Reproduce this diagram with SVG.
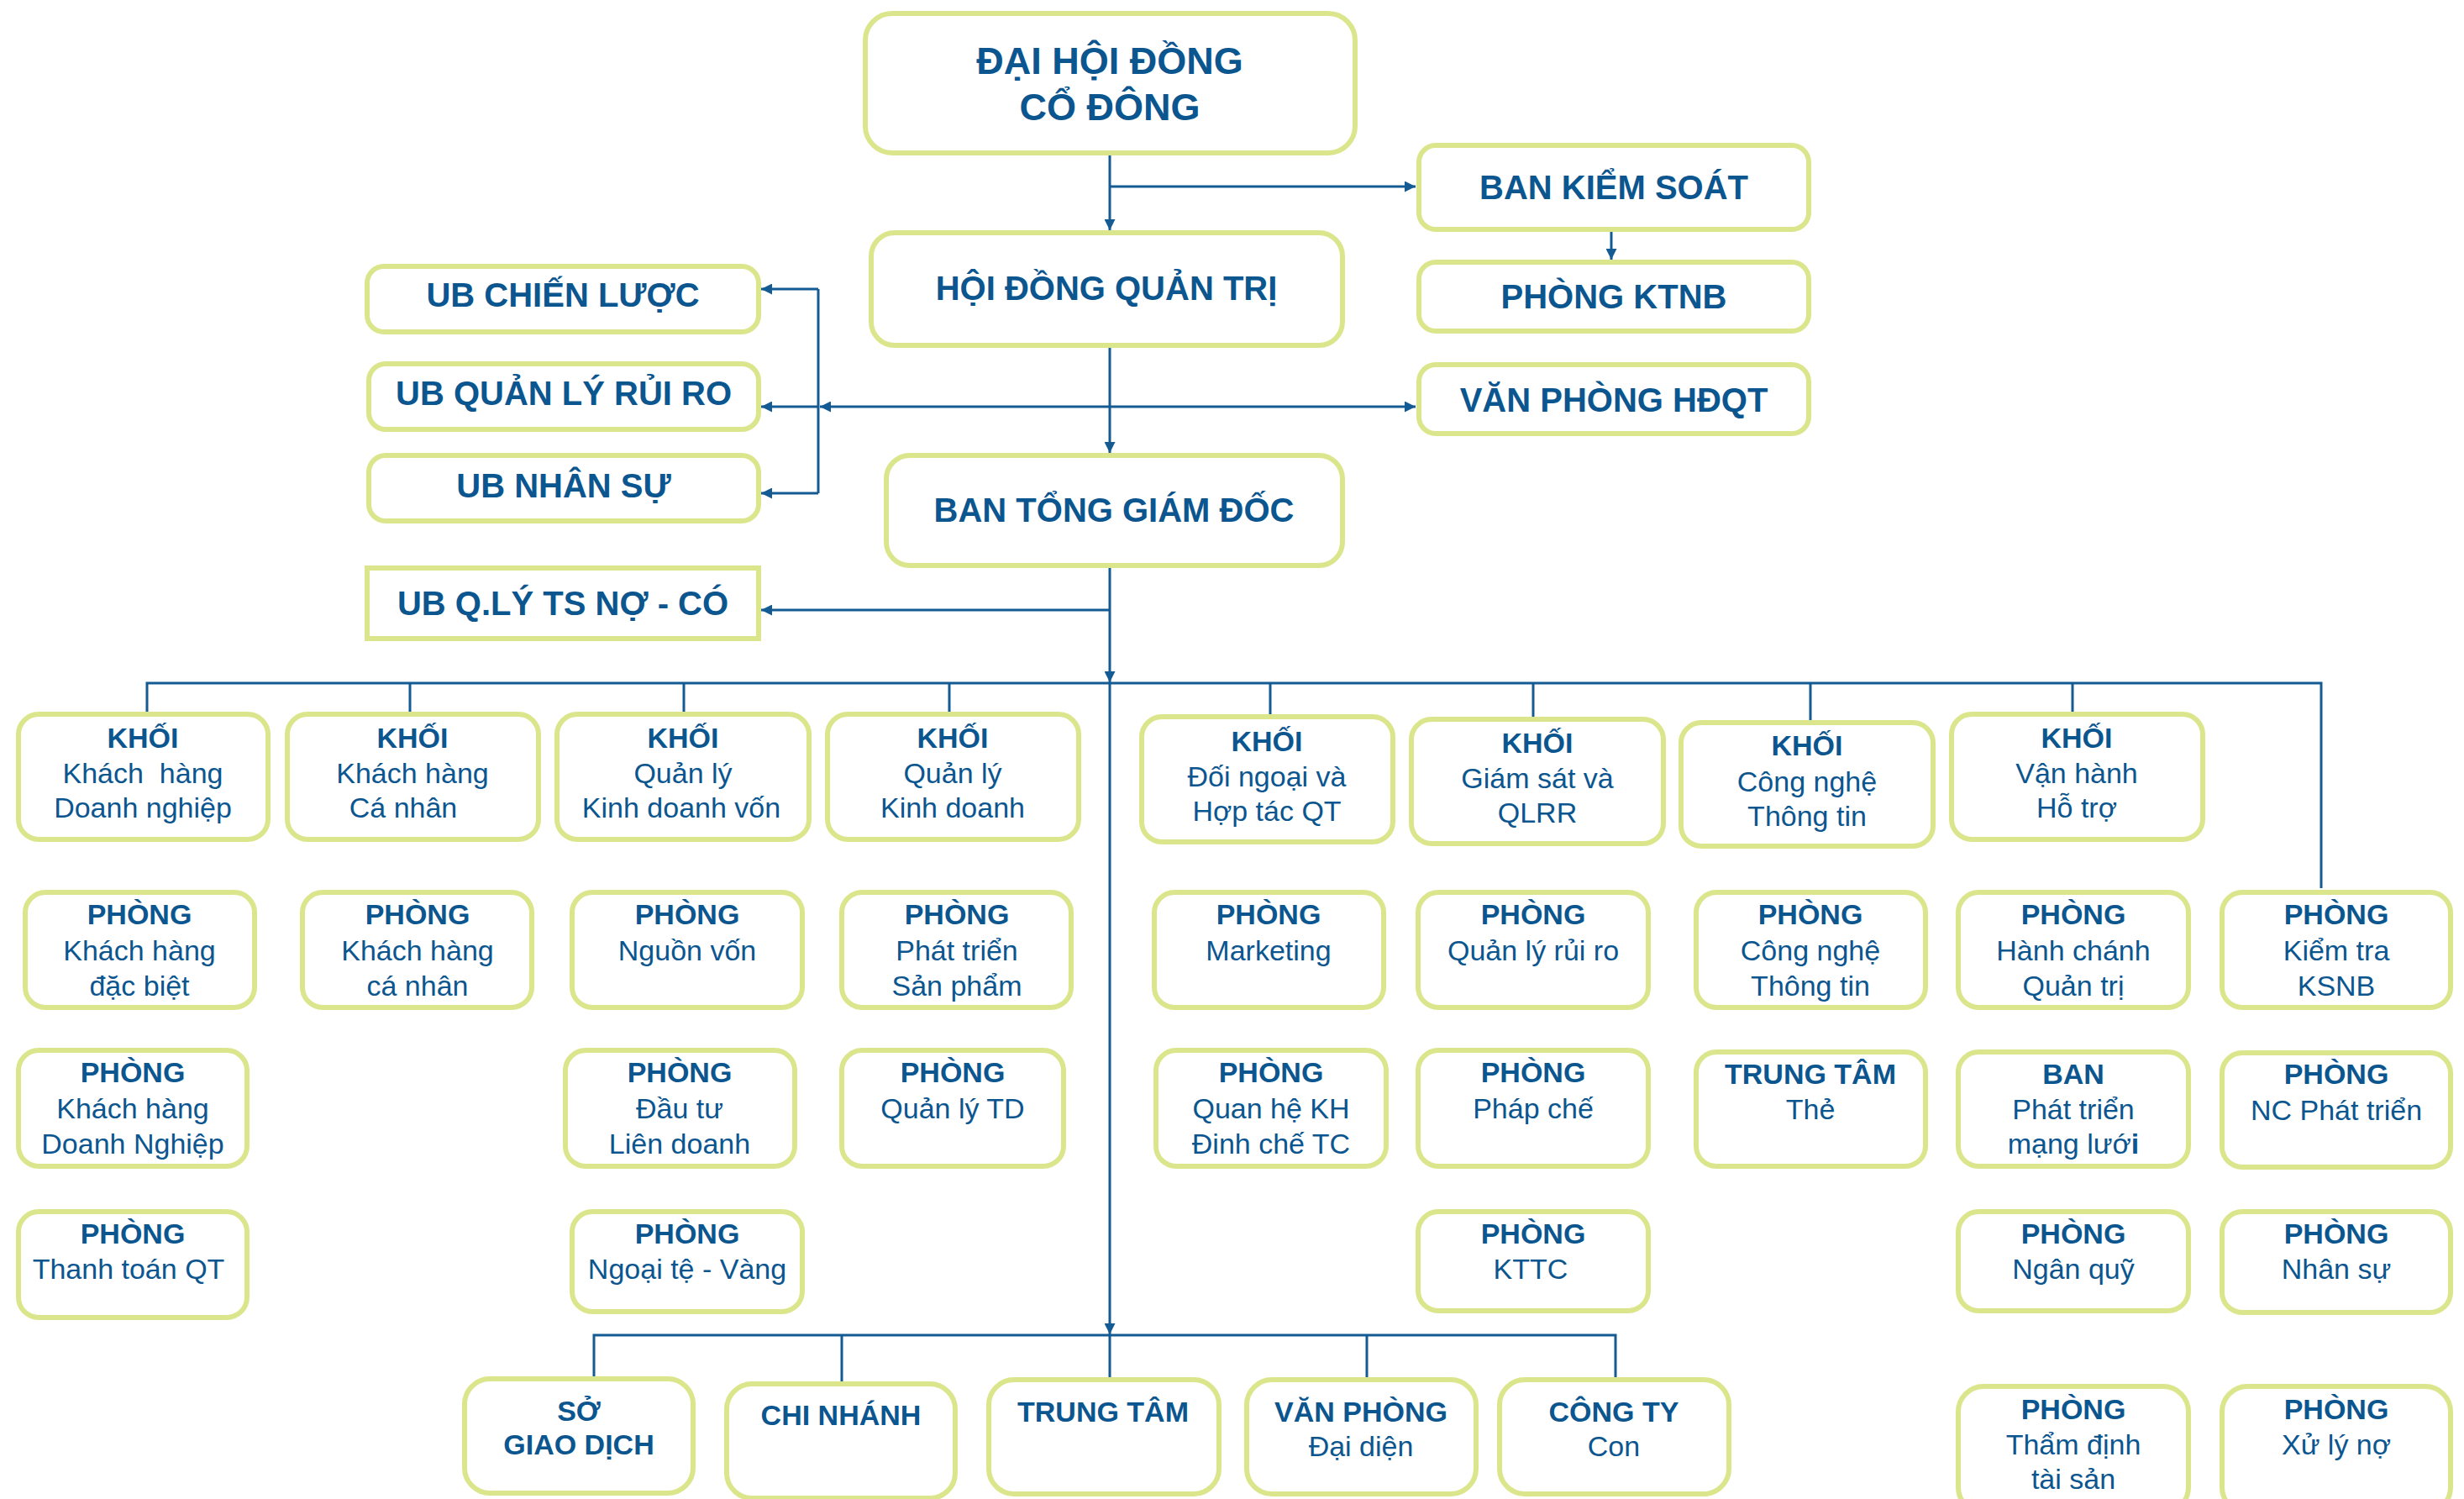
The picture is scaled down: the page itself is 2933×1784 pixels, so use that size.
<svg xmlns="http://www.w3.org/2000/svg" width="2933" height="1784" viewBox="0 0 2933 1784">
<defs>
<style>
.box{fill:#ffffff;stroke:#dbe68c;stroke-width:6}
.t{font-family:"Liberation Sans",Arial,sans-serif;fill:#0c5690;text-anchor:middle;font-size:34px}
.b{font-weight:bold}
.big{font-size:40px;font-weight:bold}
.huge{font-size:45px;font-weight:bold}
.conn{stroke:#145b94;stroke-width:3;fill:none}
</style>
<marker id="arr" viewBox="0 0 10 10" refX="10" refY="5" markerWidth="15" markerHeight="13" markerUnits="userSpaceOnUse" orient="auto">
<path d="M0,0 L10,5 L0,10 z" fill="#145b94"/>
</marker>
</defs>
<rect width="2933" height="1784" fill="#ffffff"/>

<g id="connectors">
<path class="conn" d="M1321,185 V274" marker-end="url(#arr)"/>
<path class="conn" d="M1321,222 H1685" marker-end="url(#arr)"/>
<path class="conn" d="M1918,276 V309" marker-end="url(#arr)"/>
<path class="conn" d="M1321,414 V539" marker-end="url(#arr)"/>
<path class="conn" d="M1321,484 H976" marker-end="url(#arr)"/>
<path class="conn" d="M1321,484 H1685" marker-end="url(#arr)"/>
<path class="conn" d="M974,344 V587"/>
<path class="conn" d="M974,344 H906" marker-end="url(#arr)"/>
<path class="conn" d="M974,484 H906" marker-end="url(#arr)"/>
<path class="conn" d="M974,587 H906" marker-end="url(#arr)"/>
<path class="conn" d="M1321,676 V812" marker-end="url(#arr)"/>
<path class="conn" d="M1321,726 H906" marker-end="url(#arr)"/>
<path class="conn" d="M1321,812 V1588" marker-end="url(#arr)"/>
<path class="conn" d="M175,847 V813 H2763 V1057"/>
<path class="conn" d="M488,813 V847 M814,813 V847 M1130,813 V847 M1512,813 V850 M1825,813 V853 M2155,813 V857 M2467,813 V847"/>
<path class="conn" d="M707,1638 V1589 H1923 V1639"/>
<path class="conn" d="M1002,1589 V1644 M1321,1589 V1639 M1627,1589 V1639"/>
</g>

<g id="dhdcd"><rect class="box" x="1030" y="16" width="583" height="166" rx="32"/>
<text class="t huge" x="1321" y="88">ĐẠI HỘI ĐỒNG</text><text class="t huge" x="1321" y="143">CỔ ĐÔNG</text></g>
<g id="hdqt"><rect class="box" x="1037" y="277" width="561" height="134" rx="28"/>
<text class="t big" x="1317" y="357">HỘI ĐỒNG QUẢN TRỊ</text></g>
<g id="btgd"><rect class="box" x="1055" y="542" width="543" height="131" rx="28"/>
<text class="t big" x="1326" y="621">BAN TỔNG GIÁM ĐỐC</text></g>
<g id="bks"><rect class="box" x="1689" y="173" width="464" height="100" rx="20"/>
<text class="t big" x="1921" y="237">BAN KIỂM SOÁT</text></g>
<g id="ktnb"><rect class="box" x="1689" y="312" width="464" height="82" rx="20"/>
<text class="t big" x="1921" y="367">PHÒNG KTNB</text></g>
<g id="vphdqt"><rect class="box" x="1689" y="434" width="464" height="82" rx="20"/>
<text class="t big" x="1921" y="490">VĂN PHÒNG HĐQT</text></g>
<g id="ubcl"><rect class="box" x="437" y="317" width="466" height="78" rx="20"/>
<text class="t big" x="670" y="365">UB CHIẾN LƯỢC</text></g>
<g id="ubqlrr"><rect class="box" x="439" y="433" width="464" height="78" rx="20"/>
<text class="t big" x="671" y="482">UB QUẢN LÝ RỦI RO</text></g>
<g id="ubns"><rect class="box" x="439" y="542" width="464" height="78" rx="20"/>
<text class="t big" x="671" y="592">UB NHÂN SỰ</text></g>
<g id="ubqlts"><rect class="box" x="437" y="676" width="466" height="84"/>
<text class="t big" x="670" y="732">UB Q.LÝ TS NỢ - CÓ</text></g>

<g id="k1"><rect class="box" x="22" y="850" width="297" height="149" rx="24"/>
<text class="t b" x="170" y="890">KHỐI</text><text class="t" x="170" y="932" xml:space="preserve">Khách  hàng</text><text class="t" x="170" y="973">Doanh nghiệp</text></g>
<g id="k2"><rect class="box" x="342" y="850" width="299" height="149" rx="24"/>
<text class="t b" x="491" y="890">KHỐI</text><text class="t" x="491" y="932">Khách hàng</text><text class="t" x="480" y="973">Cá nhân</text></g>
<g id="k3"><rect class="box" x="663" y="850" width="300" height="149" rx="24"/>
<text class="t b" x="813" y="890">KHỐI</text><text class="t" x="813" y="932">Quản lý</text><text class="t" x="811" y="973">Kinh doanh vốn</text></g>
<g id="k4"><rect class="box" x="985" y="850" width="299" height="149" rx="24"/>
<text class="t b" x="1134" y="890">KHỐI</text><text class="t" x="1134" y="932">Quản lý</text><text class="t" x="1134" y="973">Kinh doanh</text></g>
<g id="k5"><rect class="box" x="1359" y="853" width="299" height="149" rx="24"/>
<text class="t b" x="1508" y="894">KHỐI</text><text class="t" x="1508" y="936">Đối ngoại và</text><text class="t" x="1508" y="977">Hợp tác QT</text></g>
<g id="k6"><rect class="box" x="1680" y="856" width="300" height="148" rx="24"/>
<text class="t b" x="1830" y="896">KHỐI</text><text class="t" x="1830" y="938">Giám sát và</text><text class="t" x="1830" y="979">QLRR</text></g>
<g id="k7"><rect class="box" x="2001" y="860" width="300" height="147" rx="24"/>
<text class="t b" x="2151" y="899">KHỐI</text><text class="t" x="2151" y="942">Công nghệ</text><text class="t" x="2151" y="983">Thông tin</text></g>
<g id="k8"><rect class="box" x="2323" y="850" width="299" height="149" rx="24"/>
<text class="t b" x="2472" y="890">KHỐI</text><text class="t" x="2472" y="932">Vận hành</text><text class="t" x="2472" y="973">Hỗ trợ</text></g>

<g id="p-khdb"><rect class="box" x="30" y="1062" width="273" height="137" rx="24"/>
<text class="t b" x="166" y="1100">PHÒNG</text><text class="t" x="166" y="1143">Khách hàng</text><text class="t" x="166" y="1185">đặc biệt</text></g>
<g id="p-khcn"><rect class="box" x="360" y="1062" width="273" height="137" rx="24"/>
<text class="t b" x="497" y="1100">PHÒNG</text><text class="t" x="497" y="1143">Khách hàng</text><text class="t" x="497" y="1185">cá nhân</text></g>
<g id="p-nv"><rect class="box" x="681" y="1062" width="274" height="137" rx="24"/>
<text class="t b" x="818" y="1100">PHÒNG</text><text class="t" x="818" y="1143">Nguồn vốn</text></g>
<g id="p-ptsp"><rect class="box" x="1002" y="1062" width="273" height="137" rx="24"/>
<text class="t b" x="1139" y="1100">PHÒNG</text><text class="t" x="1139" y="1143">Phát triển</text><text class="t" x="1139" y="1185">Sản phẩm</text></g>
<g id="p-mkt"><rect class="box" x="1374" y="1062" width="273" height="137" rx="24"/>
<text class="t b" x="1510" y="1100">PHÒNG</text><text class="t" x="1510" y="1143">Marketing</text></g>
<g id="p-qlrr"><rect class="box" x="1688" y="1062" width="274" height="137" rx="24"/>
<text class="t b" x="1825" y="1100">PHÒNG</text><text class="t" x="1825" y="1143">Quản lý rủi ro</text></g>
<g id="p-cntt"><rect class="box" x="2019" y="1062" width="273" height="137" rx="24"/>
<text class="t b" x="2155" y="1100">PHÒNG</text><text class="t" x="2155" y="1143">Công nghệ</text><text class="t" x="2155" y="1185">Thông tin</text></g>
<g id="p-hcqt"><rect class="box" x="2331" y="1062" width="274" height="137" rx="24"/>
<text class="t b" x="2468" y="1100">PHÒNG</text><text class="t" x="2468" y="1143">Hành chánh</text><text class="t" x="2468" y="1185">Quản trị</text></g>
<g id="p-ksnb"><rect class="box" x="2645" y="1062" width="272" height="137" rx="24"/>
<text class="t b" x="2781" y="1100">PHÒNG</text><text class="t" x="2781" y="1143">Kiểm tra</text><text class="t" x="2781" y="1185">KSNB</text></g>

<g id="p-khdn"><rect class="box" x="22" y="1250" width="272" height="138" rx="24"/>
<text class="t b" x="158" y="1288">PHÒNG</text><text class="t" x="158" y="1331">Khách hàng</text><text class="t" x="158" y="1373">Doanh Nghiệp</text></g>
<g id="p-dtld"><rect class="box" x="673" y="1250" width="273" height="138" rx="24"/>
<text class="t b" x="809" y="1288">PHÒNG</text><text class="t" x="809" y="1331">Đầu tư</text><text class="t" x="809" y="1373">Liên doanh</text></g>
<g id="p-qltd"><rect class="box" x="1002" y="1250" width="264" height="138" rx="24"/>
<text class="t b" x="1134" y="1288">PHÒNG</text><text class="t" x="1134" y="1331">Quản lý TD</text></g>
<g id="p-qhkh"><rect class="box" x="1376" y="1250" width="274" height="138" rx="24"/>
<text class="t b" x="1513" y="1288">PHÒNG</text><text class="t" x="1513" y="1331">Quan hệ KH</text><text class="t" x="1513" y="1373">Đinh chế TC</text></g>
<g id="p-pc"><rect class="box" x="1688" y="1250" width="274" height="138" rx="24"/>
<text class="t b" x="1825" y="1288">PHÒNG</text><text class="t" x="1825" y="1331">Pháp chế</text></g>
<g id="tt-the"><rect class="box" x="2019" y="1252" width="273" height="136" rx="24"/>
<text class="t b" x="2155" y="1290">TRUNG TÂM</text><text class="t" x="2155" y="1332">Thẻ</text></g>
<g id="ban-ptml"><rect class="box" x="2331" y="1252" width="274" height="136" rx="24"/>
<text class="t b" x="2468" y="1290">BAN</text><text class="t" x="2468" y="1332">Phát triển</text><text class="t" x="2468" y="1373">mạng lướ<tspan class="b">i</tspan></text></g>
<g id="p-ncpt"><rect class="box" x="2645" y="1253" width="272" height="136" rx="24"/>
<text class="t b" x="2781" y="1290">PHÒNG</text><text class="t" x="2781" y="1333">NC Phát triển</text></g>

<g id="p-ttqt"><rect class="box" x="22" y="1442" width="272" height="126" rx="24"/>
<text class="t b" x="158" y="1480">PHÒNG</text><text class="t" x="153" y="1522">Thanh toán QT</text></g>
<g id="p-ntv"><rect class="box" x="681" y="1442" width="274" height="119" rx="24"/>
<text class="t b" x="818" y="1480">PHÒNG</text><text class="t" x="818" y="1522">Ngoại tệ - Vàng</text></g>
<g id="p-kttc"><rect class="box" x="1688" y="1442" width="274" height="118" rx="24"/>
<text class="t b" x="1825" y="1480">PHÒNG</text><text class="t" x="1822" y="1522">KTTC</text></g>
<g id="p-nq"><rect class="box" x="2331" y="1442" width="274" height="118" rx="24"/>
<text class="t b" x="2468" y="1480">PHÒNG</text><text class="t" x="2468" y="1522">Ngân quỹ</text></g>
<g id="p-ns"><rect class="box" x="2645" y="1442" width="272" height="120" rx="24"/>
<text class="t b" x="2781" y="1480">PHÒNG</text><text class="t" x="2781" y="1522">Nhân sự</text></g>

<g id="sgd"><rect class="box" x="553" y="1641" width="272" height="136" rx="30"/>
<text class="t b" x="689" y="1691">SỞ</text><text class="t b" x="689" y="1731">GIAO DỊCH</text></g>
<g id="cn"><rect class="box" x="865" y="1647" width="272" height="136" rx="30"/>
<text class="t b" x="1001" y="1696">CHI NHÁNH</text></g>
<g id="tt"><rect class="box" x="1177" y="1642" width="274" height="136" rx="30"/>
<text class="t b" x="1313" y="1692">TRUNG TÂM</text></g>
<g id="vpdd"><rect class="box" x="1484" y="1642" width="273" height="136" rx="30"/>
<text class="t b" x="1620" y="1692">VĂN PHÒNG</text><text class="t" x="1620" y="1733">Đại diện</text></g>
<g id="ctc"><rect class="box" x="1785" y="1642" width="273" height="136" rx="30"/>
<text class="t b" x="1921" y="1692">CÔNG TY</text><text class="t" x="1921" y="1733">Con</text></g>
<g id="p-tdts"><rect class="box" x="2331" y="1650" width="274" height="150" rx="30"/>
<text class="t b" x="2468" y="1689">PHÒNG</text><text class="t" x="2468" y="1731">Thẩm định</text><text class="t" x="2468" y="1772">tài sản</text></g>
<g id="p-xln"><rect class="box" x="2645" y="1650" width="272" height="150" rx="30"/>
<text class="t b" x="2781" y="1689">PHÒNG</text><text class="t" x="2781" y="1731">Xử lý nợ</text></g>
</svg>
